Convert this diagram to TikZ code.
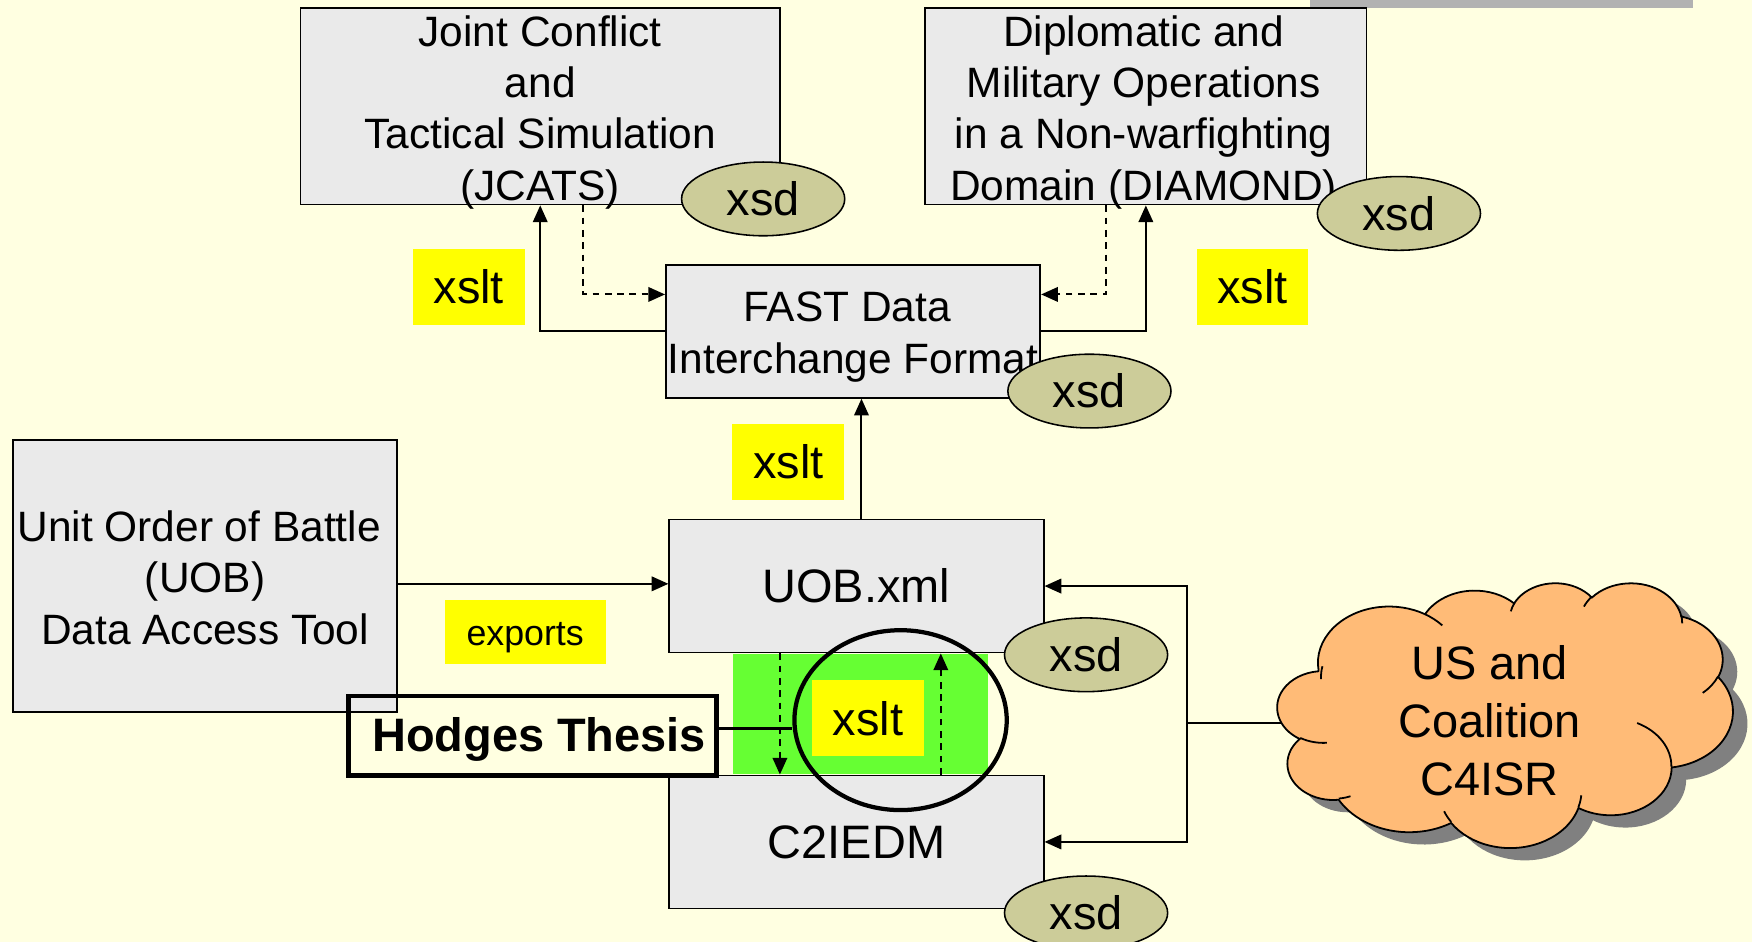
\documentclass[tikz,border=0pt]{standalone}
\usepackage{fontspec}
\setmainfont{Liberation Sans}
\usetikzlibrary{shapes.geometric,arrows.meta,calc}
\definecolor{bgc}{RGB}{255,255,225}
\definecolor{boxc}{RGB}{234,234,234}
\definecolor{xsdc}{RGB}{204,204,153}
\definecolor{yelc}{RGB}{255,255,0}
\definecolor{grnc}{RGB}{102,255,51}
\definecolor{cloudc}{RGB}{255,187,119}
\definecolor{shadc}{RGB}{128,128,128}
\definecolor{barc}{RGB}{178,178,178}
\def\mycloudpath{(39,143.7)
 arc[start angle=-187.75, delta angle=128.11, x radius=67.53, y radius=91.90]
 arc[start angle=-152.02, delta angle=106.59, x radius=53.33, y radius=72.67]
 arc[start angle=-153.49, delta angle=116.16, x radius=43.65, y radius=59.45]
 arc[start angle=-139.72, delta angle=129.50, x radius=48.57, y radius=65.95]
 arc[start angle=-74.77, delta angle=97.99, x radius=53.33, y radius=72.73]
 arc[start angle=-37.53, delta angle=119.39, x radius=67.75, y radius=92.20]
 arc[start angle=0.46, delta angle=121.51, x radius=57.85, y radius=78.67]
 arc[start angle=16.84, delta angle=129.39, x radius=67.52, y radius=92.15]
 arc[start angle=58.98, delta angle=91.20, x radius=77.20, y radius=105.43]
 arc[start angle=83.31, delta angle=139.81, x radius=43.60, y radius=59.18]
 arc[start angle=120.36, delta angle=143.75, x radius=43.45, y radius=59.45] -- cycle}
\def\mycloudinner{
 (46.93,261.77) arc[start angle=85.54, delta angle=34.82, x radius=43.45, y radius=59.45]
 (69.28,348.99) arc[start angle=68.23, delta angle=15.08, x radius=43.60, y radius=59.18]
 (164.78,390.90) arc[start angle=146.23, delta angle=12.24, x radius=67.52, y radius=92.15]
 (288.27,347.51) arc[start angle=4.73, delta angle=12.11, x radius=67.52, y radius=92.15]
 (341.29,229.54) arc[start angle=-64.02, delta angle=64.48, x radius=57.85, y radius=78.67]
 (417.98,153.54) arc[start angle=23.22, delta angle=26.42, x radius=53.33, y radius=72.73]
 (383.24,54.26) arc[start angle=-10.22, delta angle=11.04, x radius=48.57, y radius=65.95]
 (290.78,39.52) arc[start angle=-156.29, delta angle=16.57, x radius=48.57, y radius=65.95]
 (221.41,47.20) arc[start angle=-167.72, delta angle=14.23, x radius=43.65, y radius=59.45]
 (140.04,52.00) arc[start angle=-59.64, delta angle=18, x radius=67.53, y radius=91.90]
 (41.27,157.89) arc[start angle=-181.52, delta angle=13.2, x radius=67.53, y radius=91.90]}
\begin{document}
\begin{tikzpicture}[x=0.5pt,y=-0.5pt,
 graybox/.style={draw=black,line width=0.8pt,fill=boxc,rectangle,inner sep=0pt},
 boxtext/.style={inner sep=0pt,align=center,font=\fontsize{19}{23}\selectfont},
 xsdnode/.style={draw=black,line width=0.7pt,fill=xsdc,ellipse,inner sep=0pt,minimum width=73pt,minimum height=33pt,font=\fontsize{21}{25}\selectfont},
 xsltlabel/.style={fill=yelc,inner sep=0pt,minimum width=50pt,minimum height=34pt,font=\fontsize{21}{25}\selectfont},
 conn/.style={line width=0.9pt,-{Triangle[length=7.5pt,width=6.5pt]}},
 dconn/.style={conn,dash pattern=on 3pt off 2.5pt},
 cloudscale/.style={xscale=0.9432,yscale=0.5484},
]
\useasboundingbox (0,0) rectangle (1568,843);
\clip (0,0) rectangle (1568,843);
\fill[bgc] (0,0) rectangle (1568,843);
\fill[barc] (1172,0) rectangle (1515,7);

% green band
\node[fill=grnc,inner sep=0pt,minimum width=114pt,minimum height=54pt] (green) at (770,639) {};

% boxes
\node[graybox,minimum width=214.5pt,minimum height=88pt] (jcats) at (483.5,95) {};
\node[boxtext] (jcatstxt) at (483.5,100.5) {Joint Conflict\\and\\Tactical Simulation\\(JCATS)};
\node[graybox,minimum width=197.5pt,minimum height=88pt] (diamond) at (1025.5,95) {};
\node[boxtext] (diamondtxt) at (1023.5,100.5) {Diplomatic and\\Military Operations\\in a Non-warfighting\\Domain (DIAMOND)};
\node[graybox,minimum width=167.5pt,minimum height=59.5pt] (fast) at (763.5,296.5) {};
\node[boxtext] (fasttxt) at (763.5,301.5) {FAST Data\rule{5.3pt}{0pt}\\Interchange Format};
\node[graybox,minimum width=172pt,minimum height=121.5pt] (uobtool) at (183.5,515.5) {};
\node[boxtext] (uobtooltxt) at (183.5,517) {Unit Order of Battle\rule{5.3pt}{0pt}\\(UOB)\\Data Access Tool};
\node[graybox,minimum width=167.5pt,minimum height=59.5pt,font=\fontsize{21}{25}\selectfont] (uobxml) at (766.5,524.5) {UOB.xml};
\node[graybox,minimum width=167.5pt,minimum height=59.5pt,font=\fontsize{21}{25}\selectfont] (c2) at (766.5,753.5) {C2IEDM};

% xsd ellipses
\node[xsdnode] (xsd1) at (683,178) {xsd};
\node[xsdnode] (xsd2) at (1252,191) {xsd};
\node[xsdnode] (xsd3) at (975,350) {xsd};
\node[xsdnode] (xsd4) at (972,586) {xsd};
\node[xsdnode] (xsd5) at (972,817) {xsd};

% yellow labels
\node[xsltlabel] (xslt1) at (419.5,256.5) {xslt};
\node[xsltlabel] (xslt2) at (1121,256.5) {xslt};
\node[xsltlabel] (xslt3) at (705.5,413.5) {xslt};
\node[xsltlabel] (xslt4) at (777,643) {xslt};
\node[xsltlabel,minimum width=72pt,minimum height=28.5pt] (exports) at (470,565.5) {};
\node[inner sep=0pt,font=\fontsize{16}{19}\selectfont] (exportstxt) at (470,571) {exports};

% connectors top
\draw[conn] (fast.west) -| (jcats.south);
\coordinate (jd) at ([xshift=19.25pt]jcats.south);
\draw[dconn] (jd) |- ([yshift=16.5pt]fast.west);
\draw[conn] (fast.east) -| (diamond.south);
\coordinate (dd) at ([xshift=-17.75pt]diamond.south);
\draw[dconn] (dd) |- ([yshift=16.5pt]fast.east);

\coordinate (ux) at ([xshift=2.25pt]uobxml.north);
\draw[conn] (ux) -- (ux |- fast.south);

\coordinate (ue) at ([yshift=1pt]uobxml.west);
\draw[conn] (uobtool.east |- ue) -- (ue);

\coordinate (dn) at ([xshift=-34.25pt]uobxml.south);
\draw[dconn] (dn) -- (dn |- c2.north);
\coordinate (upc) at ([xshift=37.75pt]c2.north);
\draw[dconn] (upc) -- (upc |- uobxml.south);

% ring and Hodges
\node[draw=black,line width=1.9pt,ellipse,inner sep=0pt,minimum width=95pt,minimum height=80.5pt] (ring) at (806,644.5) {};
\node[draw=black,line width=2.1pt,inner sep=0pt,minimum width=164.5pt,minimum height=35.5pt] (hodges) at (476.5,658.5) {};
\node[inner sep=0pt,font=\bfseries\fontsize{21}{25}\selectfont] (hodgestxt) at (482.5,662) {Hodges Thesis};
\coordinate (hl) at ([yshift=3.25pt]hodges.east);
\draw[line width=1.6pt] (hl) -- (hl -| ring.west);

% cloud
\coordinate (junc) at (1062,647);
\coordinate (cloudw) at (1152,647);
\begin{scope}[shift={(1156.3,532.2)},cloudscale]
\fill[shadc] \mycloudpath;
\end{scope}
\draw[line width=0.9pt] (cloudw) -- (junc);
\begin{scope}[shift={(1143.3,521.2)},cloudscale]
\filldraw[fill=cloudc,draw=black,line width=0.8pt] \mycloudpath;
\draw[line width=0.8pt] \mycloudinner;
\end{scope}
\node[align=center,font=\fontsize{21}{26}\selectfont] (cloudtxt) at (1333,645) {US and\\Coalition\\C4ISR};
\draw[conn] (junc) |- (uobxml.east);
\draw[conn] (junc) |- (c2.east);
\end{tikzpicture}
\end{document}
